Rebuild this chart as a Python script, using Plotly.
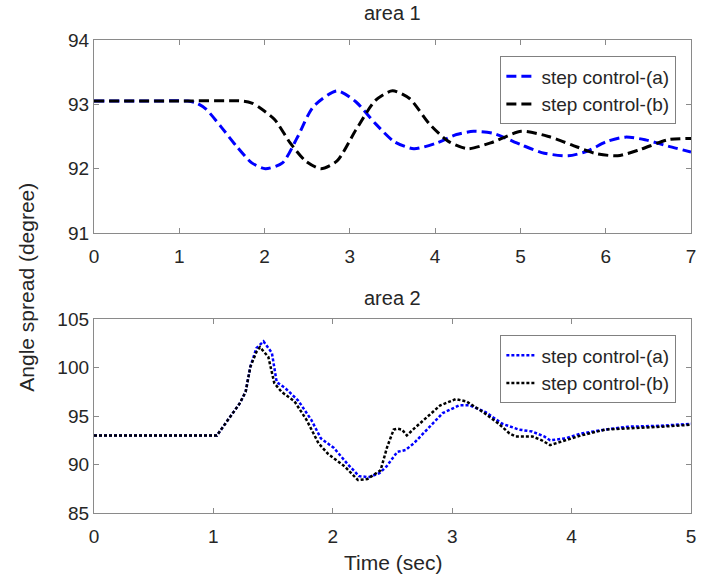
import plotly.graph_objects as go

# ---- area 1 data ----
t1_a = [0, 0.6, 1.1, 1.2, 1.31, 1.49, 1.67, 1.85, 2.01, 2.21, 2.39, 2.57, 2.85, 3.07, 3.30, 3.52, 3.75,
        4.02, 4.25, 4.45, 4.68, 5.01, 5.28, 5.56, 5.78, 6.01, 6.23, 6.46, 6.73, 7.0]
y1_a = [93.05, 93.05, 93.05, 93.02, 92.93, 92.65, 92.35, 92.09, 92.0, 92.09, 92.5, 92.96, 93.21, 93.04, 92.7, 92.42, 92.31,
        92.4, 92.53, 92.58, 92.55, 92.37, 92.24, 92.2, 92.27, 92.42, 92.49, 92.45, 92.35, 92.26]
t1_b = [0, 0.9, 1.75, 1.85, 1.94, 2.12, 2.30, 2.48, 2.66, 2.85, 3.07, 3.30, 3.50, 3.70, 3.93, 4.16, 4.38,
        4.65, 5.01, 5.33, 5.60, 5.87, 6.14, 6.41, 6.73, 7.0]
y1_b = [93.05, 93.05, 93.05, 93.02, 92.95, 92.76, 92.4, 92.12, 92.0, 92.12, 92.6, 93.06, 93.21, 93.09, 92.7, 92.42, 92.31,
        92.4, 92.58, 92.5, 92.37, 92.24, 92.2, 92.3, 92.45, 92.47]

# ---- area 2 data ----
t2_a = [0, 1.03, 1.07, 1.22, 1.27, 1.31, 1.36, 1.42, 1.49, 1.53, 1.60, 1.71, 1.82, 1.90, 2.01, 2.12, 2.22,
        2.30, 2.39, 2.45, 2.54, 2.61, 2.68, 2.79, 2.92, 3.06, 3.15, 3.28, 3.42, 3.56, 3.67, 3.77, 3.82,
        3.95, 4.08, 4.28, 4.47, 4.75, 5.0]
y2_a = [93.0, 93.0, 93.7, 96.3, 97.5, 100.1, 102.0, 102.7, 101.5, 98.5, 97.9, 96.6, 94.6, 92.7, 91.7, 90.1, 88.8,
        88.7, 89.1, 89.8, 91.3, 91.5, 92.2, 93.6, 95.3, 96.1, 96.1, 95.4, 94.2, 93.6, 93.4, 92.9, 92.5,
        92.7, 93.2, 93.6, 93.9, 94.0, 94.2]
t2_b = [0, 1.03, 1.07, 1.22, 1.27, 1.31, 1.36, 1.39, 1.46, 1.51, 1.57, 1.68, 1.78, 1.88, 1.96, 2.10, 2.21,
        2.29, 2.40, 2.455, 2.51, 2.54, 2.58, 2.62, 2.68, 2.79, 2.90, 3.03, 3.12, 3.26, 3.39, 3.48, 3.53,
        3.67, 3.75, 3.82, 3.95, 4.08, 4.28, 4.47, 4.75, 5.0]
y2_b = [93.0, 93.0, 93.7, 96.3, 97.5, 100.1, 101.6, 102.1, 101.1, 98.4, 97.5, 96.5, 94.6, 92.2, 91.1, 89.8, 88.4,
        88.5, 89.4, 91.8, 93.6, 93.7, 93.6, 93.0, 93.7, 94.9, 96.1, 96.75, 96.5, 95.4, 94.2, 93.2, 92.9,
        92.9, 92.5, 92.0, 92.5, 93.0, 93.6, 93.7, 93.9, 94.1]

names = ["step control-(a)", "step control-(b)"]
x1_ticks = [0, 1, 2, 3, 4, 5, 6, 7]
y1_ticks = [91, 92, 93, 94]
x2_ticks = [0, 1, 2, 3, 4, 5]
y2_ticks = [85, 90, 95, 100, 105]

FONT = "Liberation Sans, Arial, Helvetica, sans-serif"
TXT = "#262626"
AX = "#8a8a8a"

fig = go.Figure()
fig.add_trace(go.Scatter(x=t1_a, y=y1_a, name=names[0], mode="lines", xaxis="x", yaxis="y",
                         line=dict(color="#0000ff", width=3, dash="10px,5px", shape="spline", smoothing=0.7),
                         legend="legend"))
fig.add_trace(go.Scatter(x=t1_b, y=y1_b, name=names[1], mode="lines", xaxis="x", yaxis="y",
                         line=dict(color="#000000", width=3, dash="10px,5px", shape="spline", smoothing=0.7),
                         legend="legend"))
fig.add_trace(go.Scatter(x=t2_a, y=y2_a, name=names[0], mode="lines", xaxis="x2", yaxis="y2",
                         line=dict(color="#0000ff", width=2.5, dash="3px,2px"), legend="legend2"))
fig.add_trace(go.Scatter(x=t2_b, y=y2_b, name=names[1], mode="lines", xaxis="x2", yaxis="y2",
                         line=dict(color="#000000", width=2.5, dash="3px,2px"), legend="legend2"))

axcommon = dict(showline=True, linecolor=AX, linewidth=1.3, mirror="ticks", ticks="inside",
                ticklen=5, tickcolor=AX, tickwidth=1, showgrid=False, zeroline=False,
                ticklabeloverflow="allow",
                tickfont=dict(family=FONT, size=19, color=TXT))

top = [0.592, 1.0]
bot = [0.0, 0.41]
fig.update_layout(
    width=701, height=579,
    margin=dict(l=94, r=5, t=40, b=66),
    paper_bgcolor="white", plot_bgcolor="white",
    font=dict(family=FONT, color=TXT),
    xaxis=dict(domain=[0, 1], anchor="y", range=[0, 7], tickvals=x1_ticks, ticklabelstandoff=6, **axcommon),
    yaxis=dict(domain=top, anchor="x", range=[91, 94], tickvals=y1_ticks, **axcommon),
    xaxis2=dict(domain=[0, 1], anchor="y2", range=[0, 5], tickvals=x2_ticks, ticklabelstandoff=6, **axcommon),
    yaxis2=dict(domain=bot, anchor="x2", range=[85, 105], tickvals=y2_ticks, **axcommon),
    legend=dict(x=0.975, xanchor="right", y=0.966, yanchor="top", bgcolor="white",
                bordercolor="#808080", borderwidth=1.3, font=dict(family=FONT, size=19, color=TXT),
                tracegroupgap=0),
    legend2=dict(x=0.975, xanchor="right", y=0.376, yanchor="top", bgcolor="white",
                 bordercolor="#808080", borderwidth=1.3, font=dict(family=FONT, size=19, color=TXT),
                 tracegroupgap=0),
    showlegend=True,
)

fig.add_annotation(text="area 1", x=0.5, xref="paper", y=(513 - 13) / 473, yref="paper",
                   showarrow=False, yanchor="middle", font=dict(family=FONT, size=20, color=TXT))
fig.add_annotation(text="area 2", x=0.5, xref="paper", y=(513 - 298) / 473, yref="paper",
                   showarrow=False, yanchor="middle", font=dict(family=FONT, size=20, color=TXT))
fig.add_annotation(text="Time (sec)", x=0.5, xref="paper", y=(513 - 562) / 473, yref="paper",
                   showarrow=False, yanchor="middle", font=dict(family=FONT, size=21, color=TXT))
fig.add_annotation(text="Angle spread (degree)", x=(25 - 94) / 603, xref="paper", y=(513 - 287) / 473,
                   yref="paper", showarrow=False, textangle=-90, xanchor="center", yanchor="middle",
                   font=dict(family=FONT, size=21, color=TXT))

fig.write_html("out.html", config={"displayModeBar": False},
               post_script="document.body.style.margin='0';")
